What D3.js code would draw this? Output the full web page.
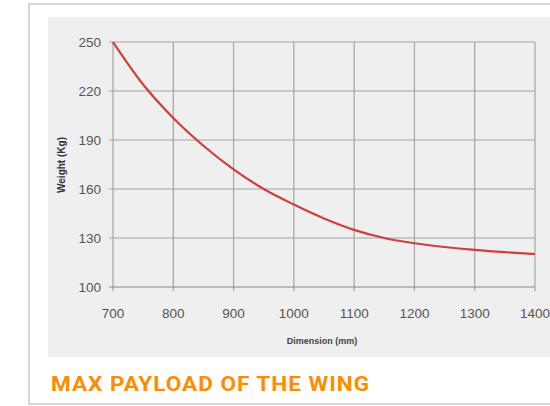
<!DOCTYPE html>
<html>
<head>
<meta charset="utf-8">
<script src="https://cdn.jsdelivr.net/npm/d3@7"></script>
<style>
  body { margin: 0; background: #fff; }
</style>
</head>
<body>
<div id="chart"></div>
<script>
// curve values
var dimensions = [700, 750, 800, 850, 900, 950, 1000, 1050, 1100, 1150, 1200, 1250, 1300, 1350, 1400];
var weights = [250, 224, 203.5, 186.5, 172, 160, 150.5, 142, 135, 130, 126.8, 124.5, 122.7, 121.3, 120.2];
var xTicks = [700, 800, 900, 1000, 1100, 1200, 1300, 1400];
var yTicks = [100, 130, 160, 190, 220, 250];

var data = dimensions.map(function(d, i) { return {dim: d, w: weights[i]}; });

var W = 550, H = 406;
var svg = d3.select("#chart")
  .append("svg")
    .attr("width", W)
    .attr("height", H);

// outer frame
svg.append("rect")
  .attr("x", 29).attr("y", 4)
  .attr("width", 540).attr("height", 400)
  .attr("fill", "#fff")
  .attr("stroke", "#d6d6d6")
  .attr("stroke-width", 2);

// grey panel behind the chart
svg.append("rect")
  .attr("x", 48).attr("y", 17)
  .attr("width", 510).attr("height", 340)
  .attr("fill", "#efefef");

var x = d3.scaleLinear().domain([700, 1400]).range([113, 535]);
var y = d3.scaleLinear().domain([100, 250]).range([287, 42]);

// grid lines
svg.append("g")
  .selectAll("line")
  .data(xTicks)
  .enter().append("line")
    .attr("x1", function(d) { return x(d); })
    .attr("x2", function(d) { return x(d); })
    .attr("y1", y(250))
    .attr("y2", y(100) + 4)
    .attr("stroke", "#a4a4a4")
    .attr("stroke-width", 1.2);

svg.append("g")
  .selectAll("line")
  .data(yTicks)
  .enter().append("line")
    .attr("x1", x(700) - 4)
    .attr("x2", x(1400))
    .attr("y1", function(d) { return y(d); })
    .attr("y2", function(d) { return y(d); })
    .attr("stroke", function(d) { return d == 100 ? "#888" : "#a4a4a4"; })
    .attr("stroke-width", 1.2);

// tick labels
svg.append("g")
  .selectAll("text")
  .data(yTicks)
  .enter().append("text")
    .attr("x", 101)
    .attr("y", function(d) { return y(d) + 4.5; })
    .attr("text-anchor", "end")
    .style("font-family", "'Liberation Sans Narrow', 'Liberation Sans', Arial, sans-serif")
    .style("font-size", "13.5px")
    .style("fill", "#555")
    .text(function(d) { return d; });

svg.append("g")
  .selectAll("text")
  .data(xTicks)
  .enter().append("text")
    .attr("x", function(d) { return x(d); })
    .attr("y", 318)
    .attr("text-anchor", "middle")
    .style("font-family", "'Liberation Sans Narrow', 'Liberation Sans', Arial, sans-serif")
    .style("font-size", "13.5px")
    .style("fill", "#555")
    .text(function(d) { return d; });

// axis titles
svg.append("text")
  .attr("x", 322)
  .attr("y", 344)
  .attr("text-anchor", "middle")
  .style("font-family", "'Liberation Sans', Arial, sans-serif")
  .style("font-size", "9px")
  .style("font-weight", "bold")
  .style("fill", "#444")
  .text("Dimension (mm)");

svg.append("text")
  .attr("transform", "translate(65," + 165 + ") rotate(-90)")
  .attr("text-anchor", "middle")
  .style("font-family", "'Liberation Sans', Arial, sans-serif")
  .style("font-size", "10px")
  .style("font-weight", "bold")
  .style("fill", "#333")
  .text("Weight (Kg)");

// the curve
var line = d3.line()
  .x(function(d) { return x(d.dim); })
  .y(function(d) { return y(d.w); })
  .curve(d3.curveMonotoneX);

svg.append("path")
  .datum(data)
  .attr("d", line)
  .attr("fill", "none")
  .attr("stroke", "#cf3f3b")
  .attr("stroke-width", 2.2);

// caption
svg.append("text")
  .attr("x", 51)
  .attr("y", 391)
  .attr("textLength", 319)
  .attr("lengthAdjust", "spacingAndGlyphs")
  .style("font-family", "Roboto, 'DejaVu Sans', sans-serif")
  .style("font-size", "20px")
  .style("font-weight", "bold")
  .style("letter-spacing", "0.9px")
  .style("fill", "#ff8c00")
  .text("MAX PAYLOAD OF THE WING");
</script>
</body>
</html>
